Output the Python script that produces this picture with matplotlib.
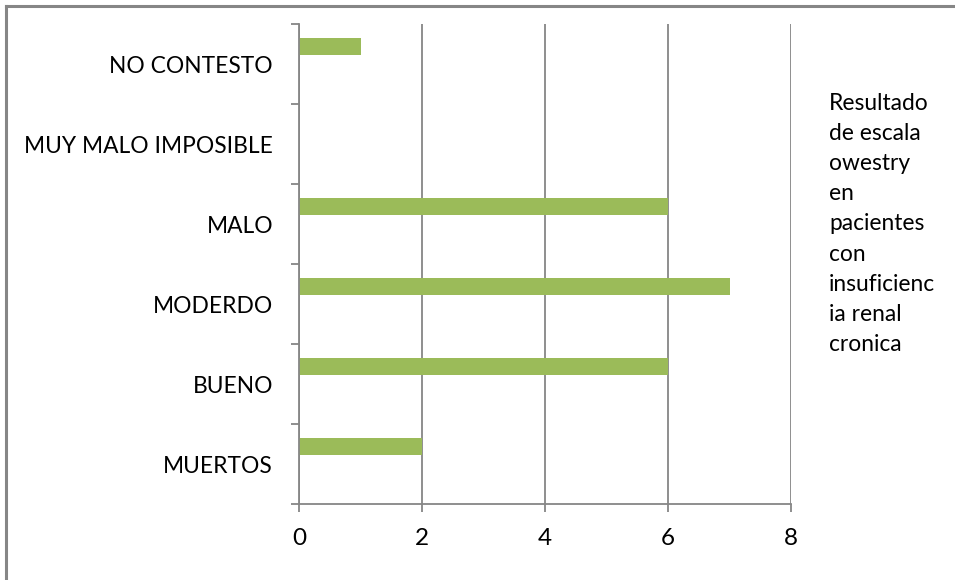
import matplotlib
matplotlib.use("Agg")
import matplotlib.pyplot as plt
from matplotlib.lines import Line2D
import numpy as np

plt.rcParams['font.family'] = ['Lato', 'DejaVu Sans']

categories = ["MUERTOS", "BUENO", "MODERDO", "MALO", "MUY MALO IMPOSIBLE", "NO CONTESTO"]
values = [2, 6, 7, 6, 0, 1]
x_ticks = [0, 2, 4, 6, 8]
legend_text = "Resultado\nde escala\nowestry\nen\npacientes\ncon\ninsuficienc\nia renal\ncronica"

bar_color = "#9BBB59"
axis_color = "#868686"
font_size = 16.4

fig = plt.figure(figsize=(9.55, 5.8), dpi=100)
ax = fig.add_axes([0.3131, 0.131, 0.8283 - 0.3131, 0.9586 - 0.131])

pos = np.arange(len(categories))
ax.barh(pos + 0.22, values, height=0.21, color=bar_color, zorder=3)

ax.set_xlim(0, 8)
ax.set_ylim(-0.5, len(categories) - 0.5)
ax.set_xticks(x_ticks)
ax.set_xticklabels([str(t) for t in x_ticks], fontsize=17.5)
ax.set_yticks(pos)
ax.set_yticklabels(categories, fontsize=font_size)
ax.set_yticks(np.arange(-0.5, len(categories)), minor=True)

ax.tick_params(axis='y', which='major', length=0, pad=18.7)
ax.tick_params(axis='y', which='minor', length=6, width=1.3, color=axis_color, direction='out')
ax.tick_params(axis='x', which='major', length=6, width=1.3, color=axis_color, direction='out', pad=11)

ax.grid(axis='x', color=axis_color, linewidth=1.3, zorder=1)
for side in ('top', 'right'):
    ax.spines[side].set_visible(False)
for side in ('left', 'bottom'):
    ax.spines[side].set_color(axis_color)
    ax.spines[side].set_linewidth(1.3)
ax.spines['left'].set_zorder(4)

fig.text(829 / 955, 1 - 224 / 580, legend_text, fontsize=font_size,
         ha='left', va='center', linespacing=1.53)

# chart frame (top and left edges)
fig.add_artist(Line2D([5.5 / 955, 1.0], [1 - 5.5 / 580] * 2, color=axis_color, linewidth=2.2,
                      transform=fig.transFigure))
fig.add_artist(Line2D([5.5 / 955] * 2, [0.0, 1 - 5.5 / 580], color=axis_color, linewidth=2.2,
                      transform=fig.transFigure))

fig.savefig("out.png", dpi=100)
